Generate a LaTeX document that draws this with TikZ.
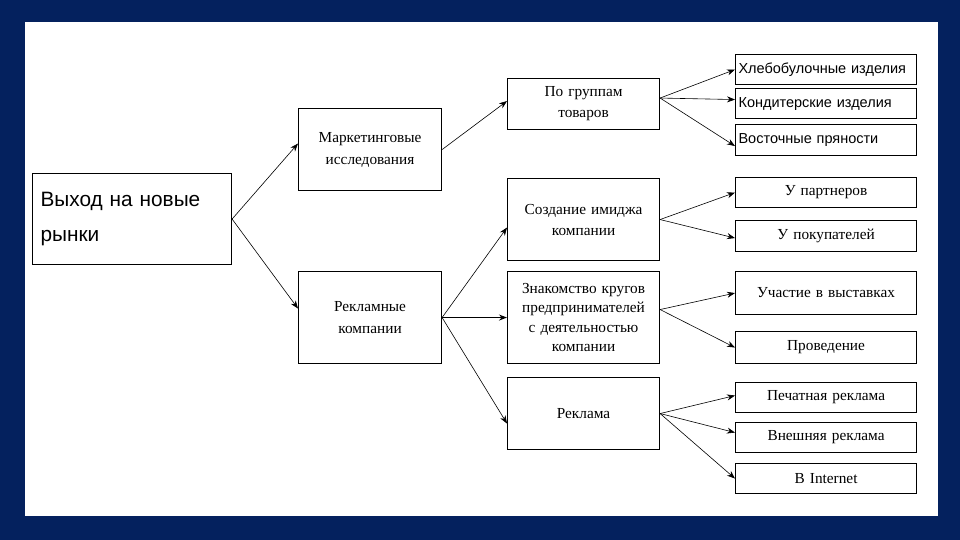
\documentclass[tikz,border=0pt]{standalone}
\usepackage{fontspec}
\setmainfont{Liberation Serif}
\setsansfont{Liberation Sans}
\usetikzlibrary{arrows.meta,calc}
\definecolor{navy}{RGB}{4,33,94}
\tikzset{
  bx/.style={draw, line width=1.1pt, anchor=north west, inner sep=0pt},
  mainbox/.style={bx, minimum width=199pt, minimum height=91pt, text width=183pt, inner xsep=8pt,
    align=left, font=\sffamily\fontsize{20.8}{35}\selectfont},
  midbox/.style={bx, minimum width=152pt, minimum height=#1, text width=148pt, inner xsep=2pt,
    align=center, font=\fontsize{15.3}{21}\selectfont},
  lvl1/.style={bx, minimum width=143pt, minimum height=#1, text width=139pt, inner xsep=2pt,
    align=center, font=\fontsize{15.3}{22}\selectfont},
  leafs/.style={bx, minimum width=181pt, minimum height=#1, text width=175pt, inner xsep=3pt,
    align=left, font=\sffamily\fontsize{14.5}{16}\selectfont},
  leaf/.style={bx, minimum width=181pt, minimum height=#1, text width=175pt, inner xsep=3pt,
    align=center, font=\fontsize{15.3}{17}\selectfont},
  arr/.style={line width=0.6pt, -{Stealth[length=8pt,width=6pt]}},
  thickarr/.style={line width=1.6pt, -{Stealth[length=8pt,width=6pt]}}
}
\begin{document}
\begin{tikzpicture}[x=1pt,y=-1pt]
\fill[navy] (0,0) rectangle (960,540);
\fill[white] (25,22) rectangle (938,516);
\useasboundingbox (0,0) rectangle (960,540);

\node[mainbox] (main) at (32,173) {Выход на новые\\рынки};

\node[lvl1=82pt] (mk) at (298,108) {Маркетинговые\\исследования};
\node[lvl1=92pt] (rk) at (298,271) {Рекламные\\компании};

\node[midbox=51pt] (pg) at (507,78) {По группам\\товаров};
\node[midbox=82pt] (si) at (507,178) {Создание имиджа\\компании};
\node[midbox=92pt, font=\fontsize{15.3}{19.5}\selectfont] (zk) at (507,271) {Знакомство кругов\\предпринимателей\\с деятельностью\\компании};
\node[midbox=72pt] (rl) at (507,377) {Реклама};

\node[leafs=30pt] (l1) at (735,54) {Хлебобулочные изделия};
\node[leafs=30pt] (l2) at (735,88) {Кондитерские изделия};
\node[leafs=31pt] (l3) at (735,124) {Восточные пряности};
\node[leaf=30pt] (l4) at (735,177) {У партнеров};
\node[leaf=31pt] (l5) at (735,220) {У покупателей};
\node[leaf=43pt] (l6) at (735,271) {Участие в выставках};
\node[leaf=32pt] (l7) at (735,331) {Проведение};
\node[leaf=30pt] (l8) at (735,382) {Печатная реклама};
\node[leaf=30pt] (l9) at (735,422) {Внешняя реклама};
\node[leaf=30pt] (l10) at (735,463) {В Internet};

\draw[arr] (main.east) -- ([yshift=6pt]mk.west);
\draw[arr] (main.east) -- ([yshift=9pt]rk.west);

\draw[arr] (mk.east) -- ([yshift=3pt]pg.west);
\draw[arr] (rk.east) -- ([yshift=-8pt]si.west);
\draw[thickarr] (rk.east) -- (zk.west);
\draw[arr] (rk.east) -- ([yshift=-10pt]rl.west);

\draw[arr] ([yshift=6pt]pg.east) -- (l1.west);
\draw[arr] ([yshift=6pt]pg.east) -- ([yshift=4pt]l2.west);
\draw[arr] ([yshift=6pt]pg.east) -- ([yshift=-6pt]l3.west);

\draw[arr] (si.east) -- (l4.west);
\draw[arr] (si.east) -- ([yshift=-2pt]l5.west);

\draw[arr] ([yshift=8pt]zk.east) -- (l6.west);
\draw[arr] ([yshift=8pt]zk.east) -- (l7.west);

\draw[arr] (rl.east) -- ([yshift=2pt]l8.west);
\draw[arr] (rl.east) -- ([yshift=5pt]l9.west);
\draw[arr] (rl.east) -- (l10.west);
\end{tikzpicture}
\end{document}
